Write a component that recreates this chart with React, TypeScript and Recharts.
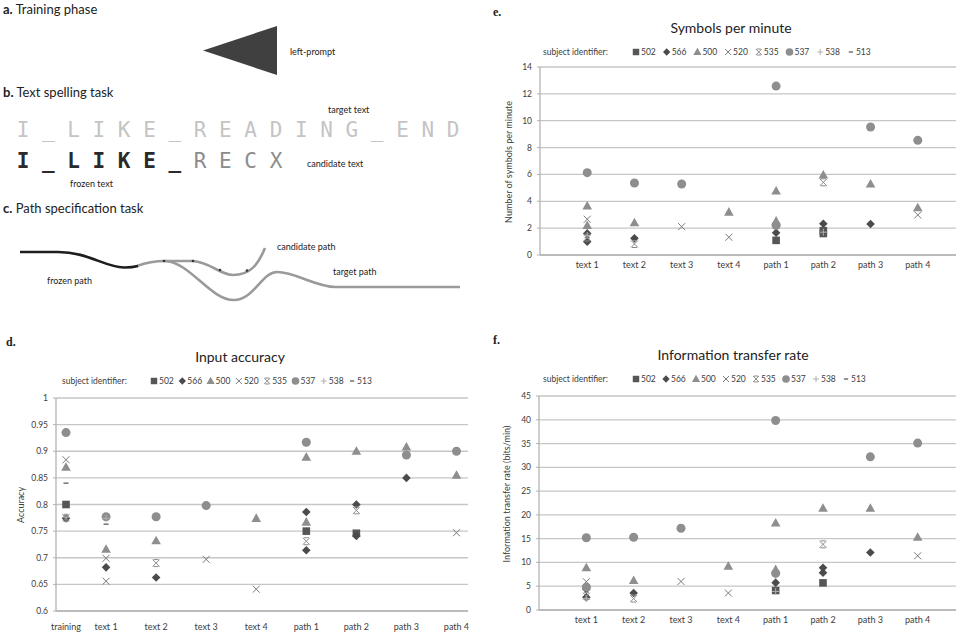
import React from 'react';
import { ScatterChart, Scatter, XAxis, YAxis, CartesianGrid } from 'recharts';

type Pt = [number, number];

const FONT = 'Lato, "Open Sans", sans-serif';

const subjectIds = ['502', '566', '500', '520', '535', '537', '538', '513'];
const markerKinds = ['square', 'diamond', 'triangle', 'x', 'star', 'circle', 'plus', 'dash'];

const taskLabels = ['text 1', 'text 2', 'text 3', 'text 4', 'path 1', 'path 2', 'path 3', 'path 4'];
const taskX = [1, 2, 3, 4, 5, 6, 7, 8];
const accLabels = ['training', 'text 1', 'text 2', 'text 3', 'text 4', 'path 1', 'path 2', 'path 3', 'path 4'];
const accX = [0.2, 1, 2, 3, 4, 5, 6, 7, 8];

const spmTicks = [0, 2, 4, 6, 8, 10, 12, 14];
const accTicks = [0.6, 0.65, 0.7, 0.75, 0.8, 0.85, 0.9, 0.95, 1];
const accTickLabels = ['0.6', '0.65', '0.7', '0.75', '0.8', '0.85', '0.9', '0.95', '1'];
const itrTicks = [0, 5, 10, 15, 20, 25, 30, 35, 40, 45];

// Symbols per minute (x = task index 1..8)
const spm502: Pt[] = [[5, 1.09], [6, 1.81], [6, 1.6]];
const spm566: Pt[] = [[1, 1.61], [1, 0.99], [2, 1.24], [5, 1.66], [6, 2.33], [7, 2.31]];
const spm500: Pt[] = [[1, 3.65], [1, 2.2], [2, 2.41], [4, 3.2], [5, 4.77], [5, 2.53], [6, 5.96], [7, 5.29], [8, 3.52]];
const spm520: Pt[] = [[1, 2.66], [3, 2.11], [4, 1.32], [8, 2.98]];
const spm535: Pt[] = [[1, 1.3], [2, 0.82], [6, 5.41]];
const spm537: Pt[] = [[1, 6.13], [2, 5.36], [3, 5.29], [5, 12.58], [5, 2.2], [7, 9.53], [8, 8.54]];
const spm538: Pt[] = [[1, 1.45], [6, 1.7]];
const spm513: Pt[] = [[1, 1.3]];

// Input accuracy (x = 0.2 training, 1..8 tasks)
const acc502: Pt[] = [[0.2, 0.8], [5, 0.75], [6, 0.746]];
const acc566: Pt[] = [[0.2, 0.774], [1, 0.682], [2, 0.663], [5, 0.786], [5, 0.714], [6, 0.8], [6, 0.741], [7, 0.85]];
const acc500: Pt[] = [[0.2, 0.87], [1, 0.716], [2, 0.732], [4, 0.774], [5, 0.889], [5, 0.767], [6, 0.9], [7, 0.908], [8, 0.855]];
const acc520: Pt[] = [[0.2, 0.884], [1, 0.699], [1, 0.656], [3, 0.697], [4, 0.641], [8, 0.747]];
const acc535: Pt[] = [[0.2, 0.775], [2, 0.69], [5, 0.731], [6, 0.789]];
const acc537: Pt[] = [[0.2, 0.935], [1, 0.777], [2, 0.777], [3, 0.798], [5, 0.917], [7, 0.893], [8, 0.9]];
const acc538: Pt[] = [[0.2, 0.776], [1, 0.774]];
const acc513: Pt[] = [[0.2, 0.84], [1, 0.763]];

// Information transfer rate (x = task index 1..8)
const itr502: Pt[] = [[5, 4.1], [6, 5.7]];
const itr566: Pt[] = [[1, 4.35], [1, 2.67], [2, 3.57], [5, 5.75], [6, 8.9], [6, 7.85], [7, 12.1]];
const itr500: Pt[] = [[1, 8.9], [2, 6.2], [4, 9.2], [5, 18.3], [5, 8.5], [6, 21.4], [7, 21.4], [8, 15.3]];
const itr520: Pt[] = [[1, 5.95], [3, 6.0], [4, 3.57], [8, 11.4]];
const itr535: Pt[] = [[1, 2.9], [2, 2.4], [6, 13.8]];
const itr537: Pt[] = [[1, 15.2], [1, 4.8], [2, 15.3], [3, 17.2], [5, 39.85], [5, 7.7], [7, 32.2], [8, 35.1]];
const itr538: Pt[] = [[1, 2.4], [5, 3.9]];
const itr513: Pt[] = [];

const markerColor: Record<string, string> = {
  square: '#565656',
  diamond: '#4b4b4b',
  triangle: '#8e8e8e',
  x: '#7a7a7a',
  star: '#8c8c8c',
  circle: '#8e8e8e',
  plus: '#b0b0b0',
  dash: '#7a7a7a',
};

function Marker({ kind, cx, cy, k = 1 }: { kind: string; cx: number; cy: number; k?: number }) {
  const c = markerColor[kind];
  if (cx == null || cy == null || isNaN(cx) || isNaN(cy)) return null;
  switch (kind) {
    case 'square':
      return <rect x={cx - 3.8 * k} y={cy - 3.8 * k} width={7.6 * k} height={7.6 * k} fill={c} />;
    case 'diamond':
      return (
        <polygon
          points={`${cx},${cy - 4.3 * k} ${cx + 4.3 * k},${cy} ${cx},${cy + 4.3 * k} ${cx - 4.3 * k},${cy}`}
          fill={c}
        />
      );
    case 'triangle':
      return (
        <polygon
          points={`${cx},${cy - 5 * k} ${cx + 4.8 * k},${cy + 3.6 * k} ${cx - 4.8 * k},${cy + 3.6 * k}`}
          fill={c}
        />
      );
    case 'x':
      return (
        <g stroke={c} strokeWidth={1}>
          <line x1={cx - 3.5 * k} y1={cy - 3.5 * k} x2={cx + 3.5 * k} y2={cy + 3.5 * k} />
          <line x1={cx - 3.5 * k} y1={cy + 3.5 * k} x2={cx + 3.5 * k} y2={cy - 3.5 * k} />
        </g>
      );
    case 'star':
      return (
        <g stroke={c} strokeWidth={1}>
          <line x1={cx - 3.5 * k} y1={cy - 3.5 * k} x2={cx + 3.5 * k} y2={cy + 3.5 * k} />
          <line x1={cx - 3.5 * k} y1={cy + 3.5 * k} x2={cx + 3.5 * k} y2={cy - 3.5 * k} />
          <line x1={cx - 2.5 * k} y1={cy - 3.5 * k} x2={cx + 2.5 * k} y2={cy - 3.5 * k} />
          <line x1={cx - 2.5 * k} y1={cy + 3.5 * k} x2={cx + 2.5 * k} y2={cy + 3.5 * k} />
        </g>
      );
    case 'circle':
      return <circle cx={cx} cy={cy} r={4.5 * k} fill={c} />;
    case 'plus':
      return (
        <g stroke={c} strokeWidth={1}>
          <line x1={cx - 3.5 * k} y1={cy} x2={cx + 3.5 * k} y2={cy} />
          <line x1={cx} y1={cy - 3.5 * k} x2={cx} y2={cy + 3.5 * k} />
        </g>
      );
    case 'dash':
      return <line x1={cx - 2.5 * k} y1={cy} x2={cx + 2.5 * k} y2={cy} stroke={c} strokeWidth={1.6} />;
    default:
      return null;
  }
}

type PanelProps = {
  left: number;
  top: number;
  width: number;
  height: number;
  margin: { top: number; right: number; bottom: number; left: number };
  yWidth: number;
  xHeight: number;
  xDomain: [number, number];
  xTicks: number[];
  xLabels: string[];
  yDomain: [number, number];
  yTicks: number[];
  yFmt: (v: number) => string;
  series: Pt[][];
  xTickMargin: number;
};

function Panel(p: PanelProps) {
  return (
    <div style={{ position: 'absolute', left: p.left, top: p.top }}>
      <ScatterChart width={p.width} height={p.height} margin={p.margin}>
        <CartesianGrid vertical={false} stroke="#c6c6c6" strokeWidth={1.3} />
        <XAxis
          type="number"
          dataKey="x"
          domain={p.xDomain}
          ticks={p.xTicks}
          interval={0}
          allowDataOverflow
          height={p.xHeight}
          tickFormatter={(v: number) => {
            const i = p.xTicks.indexOf(v);
            return i >= 0 ? p.xLabels[i] : '';
          }}
          axisLine={{ stroke: '#b3b3b3', strokeWidth: 1.3 }}
          tickLine={false}
          tickSize={0}
          tickMargin={p.xTickMargin}
          tick={{ fontSize: 9, fill: '#3c3c3c', fontFamily: FONT }}
        />
        <YAxis
          type="number"
          dataKey="y"
          domain={p.yDomain}
          ticks={p.yTicks}
          interval={0}
          allowDataOverflow
          width={p.yWidth}
          tickFormatter={p.yFmt}
          axisLine={{ stroke: '#b3b3b3', strokeWidth: 1.3 }}
          tickLine={{ stroke: '#b3b3b3' }}
          tickSize={3}
          tickMargin={5}
          tick={{ fontSize: 8.5, fill: '#3c3c3c', fontFamily: FONT }}
        />
        {p.series.map((pts, i) => (
          <Scatter
            key={subjectIds[i]}
            name={subjectIds[i]}
            data={pts.map(([x, y]) => ({ x, y }))}
            isAnimationActive={false}
            shape={(sp: any) => <Marker kind={markerKinds[i]} cx={sp.cx} cy={sp.cy} />}
          />
        ))}
      </ScatterChart>
    </div>
  );
}

function LegendRow({ x, y, startX, step }: { x: number; y: number; startX: number; step: number }) {
  return (
    <g fontFamily={FONT} fontSize={8.5} fill="#3c3c3c">
      <text x={x} y={y + 3}>subject identifier:</text>
      {subjectIds.map((id, i) => {
        const mx = startX + i * step;
        return (
          <g key={id}>
            <Marker kind={markerKinds[i]} cx={mx} cy={y} k={0.85} />
            <text x={mx + 5} y={y + 3}>
              {id}
            </text>
          </g>
        );
      })}
    </g>
  );
}

const targetText = 'I_LIKE_READING_END';
const candidateFrozen = 'I_LIKE_';
const candidateRest = 'RECX';

function Illustration() {
  const pitch = 25.3;
  const x0 = 23;
  return (
    <g>
      {/* a. */}
      <text x={3} y={14} fontFamily={FONT} fontSize={13} fill="#222">
        <tspan fontWeight="bold">a.</tspan>
        <tspan> Training phase</tspan>
      </text>
      <polygon points="203,50.5 277,26 277,75" fill="#404040" />
      <text x={290} y={55} fontFamily={FONT} fontSize={9} fill="#222">left-prompt</text>

      {/* b. */}
      <text x={3} y={97} fontFamily={FONT} fontSize={13} fill="#222">
        <tspan fontWeight="bold">b.</tspan>
        <tspan> Text spelling task</tspan>
      </text>
      <text x={328} y={113} fontFamily={FONT} fontSize={9} fill="#222">target text</text>
      {targetText.split('').map((ch, i) => (
        <text
          key={'t' + i}
          x={x0 + i * pitch}
          y={137}
          textAnchor="middle"
          fontFamily='"DejaVu Sans Mono", monospace'
          fontSize={21}
          fill="#c4c4c4"
        >
          {ch}
        </text>
      ))}
      {(candidateFrozen + candidateRest).split('').map((ch, i) => (
        <text
          key={'c' + i}
          x={x0 + i * pitch}
          y={168}
          textAnchor="middle"
          fontFamily='"DejaVu Sans Mono", monospace'
          fontWeight={i < candidateFrozen.length ? 'bold' : 'normal'}
          fontSize={21}
          fill={i < candidateFrozen.length ? '#2a2a2a' : '#8c8c8c'}
        >
          {ch}
        </text>
      ))}
      <text x={307} y={167} fontFamily={FONT} fontSize={9} fill="#222">candidate text</text>
      <text x={70} y={187} fontFamily={FONT} fontSize={9} fill="#222">frozen text</text>

      {/* c. */}
      <text x={3} y={213} fontFamily={FONT} fontSize={13} fill="#222">
        <tspan fontWeight="bold">c.</tspan>
        <tspan> Path specification task</tspan>
      </text>
      <path
        d="M165,261 C190,262 210,300 234,300 C254,300 262,272 277,272 C296,272 315,287 336,287 L460,287"
        fill="none"
        stroke="#9a9a9a"
        strokeWidth={2.6}
      />
      <path
        d="M137,266 C148,262 157,261 165,261 L193,261 C210,262 220,275 233,275 C250,275 258,265 265,248"
        fill="none"
        stroke="#9a9a9a"
        strokeWidth={2.6}
      />
      <path
        d="M20,252 L58,252 C88,252 104,267 124,267.5 C130,267.6 134,267 138,266"
        fill="none"
        stroke="#1e1e1e"
        strokeWidth={2.6}
      />
      <circle cx={164} cy={261} r={1.3} fill="#333" />
      <circle cx={193} cy={261} r={1.3} fill="#333" />
      <circle cx={220} cy={270} r={1.3} fill="#333" />
      <circle cx={247} cy={270.5} r={1.3} fill="#333" />
      <text x={277} y={250} fontFamily={FONT} fontSize={9} fill="#222">candidate path</text>
      <text x={333} y={275} fontFamily={FONT} fontSize={9} fill="#222">target path</text>
      <text x={47} y={284} fontFamily={FONT} fontSize={9} fill="#222">frozen path</text>
    </g>
  );
}

export default function App() {
  return (
    <div
      style={{
        position: 'absolute',
        left: 0,
        top: 0,
        width: 956,
        height: 635,
        overflow: 'hidden',
        background: '#fff',
      }}
    >
      <svg width={956} height={635} style={{ position: 'absolute', left: 0, top: 0 }}>
        <Illustration />

        {/* e */}
        <text x={493} y={16} fontFamily='"Liberation Serif", serif' fontWeight="bold" fontSize={12} fill="#222">e.</text>
        <text x={731} y={33} textAnchor="middle" fontFamily={FONT} fontSize={14} fill="#222">Symbols per minute</text>
        <LegendRow x={543} y={52} startX={636} step={30.7} />
        <text
          transform="translate(512,162) rotate(-90)"
          textAnchor="middle"
          fontFamily={FONT}
          fontSize={9}
          fill="#3c3c3c"
        >
          Number of symbols per minute
        </text>

        {/* d */}
        <text x={6} y={346} fontFamily='"Liberation Serif", serif' fontWeight="bold" fontSize={12} fill="#222">d.</text>
        <text x={240} y={362} textAnchor="middle" fontFamily={FONT} fontSize={14} fill="#222">Input accuracy</text>
        <LegendRow x={62} y={381} startX={154} step={28.3} />
        <text
          transform="translate(24,505) rotate(-90)"
          textAnchor="middle"
          fontFamily={FONT}
          fontSize={9}
          fill="#3c3c3c"
        >
          Accuracy
        </text>

        {/* f */}
        <text x={493} y={344} fontFamily='"Liberation Serif", serif' fontWeight="bold" fontSize={12} fill="#222">f.</text>
        <text x={733} y={360} textAnchor="middle" fontFamily={FONT} fontSize={14} fill="#222">Information transfer rate</text>
        <LegendRow x={543} y={379} startX={636} step={30} />
        <text
          transform="translate(510,494) rotate(-90)"
          textAnchor="middle"
          fontFamily={FONT}
          fontSize={9}
          fill="#3c3c3c"
        >
          Information transfer rate (bits/min)
        </text>
      </svg>

      <Panel
        left={490}
        top={50}
        width={490}
        height={230}
        margin={{ top: 17, right: 15, bottom: 5, left: 0 }}
        yWidth={50}
        xHeight={20}
        xDomain={[0, 9]}
        xTicks={taskX}
        xLabels={taskLabels}
        yDomain={[0, 14]}
        yTicks={spmTicks}
        yFmt={(v) => String(v)}
        series={[spm502, spm566, spm500, spm520, spm535, spm537, spm538, spm513]}
        xTickMargin={7}
      />
      <Panel
        left={0}
        top={380}
        width={480}
        height={255}
        margin={{ top: 18, right: 12, bottom: 0, left: 0 }}
        yWidth={56}
        xHeight={24}
        xDomain={[0, 8.23]}
        xTicks={accX}
        xLabels={accLabels}
        yDomain={[0.6, 1]}
        yTicks={accTicks}
        yFmt={(v) => {
          const i = accTicks.findIndex((t) => Math.abs(t - v) < 1e-9);
          return i >= 0 ? accTickLabels[i] : String(v);
        }}
        series={[acc502, acc566, acc500, acc520, acc535, acc537, acc538, acc513]}
        xTickMargin={13}
      />
      <Panel
        left={490}
        top={380}
        width={490}
        height={255}
        margin={{ top: 16, right: 15, bottom: 0, left: 0 }}
        yWidth={49}
        xHeight={25}
        xDomain={[0, 9]}
        xTicks={taskX}
        xLabels={taskLabels}
        yDomain={[0, 45]}
        yTicks={itrTicks}
        yFmt={(v) => String(v)}
        series={[itr502, itr566, itr500, itr520, itr535, itr537, itr538, itr513]}
        xTickMargin={7}
      />
    </div>
  );
}
